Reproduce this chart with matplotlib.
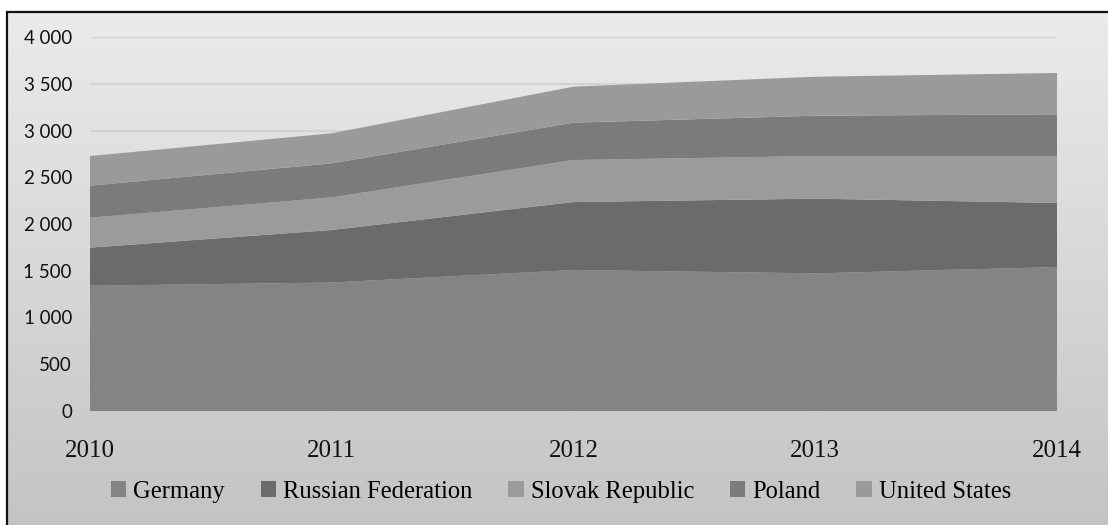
import numpy as np
import matplotlib.pyplot as plt
from matplotlib.patches import Rectangle

years = [2010, 2011, 2012, 2013, 2014]
countries = ['Germany', 'Russian Federation', 'Slovak Republic', 'Poland', 'United States']
germany = [1340, 1374, 1508, 1472, 1540]
russia = [407, 562, 727, 799, 685]
slovakia = [320, 349, 449, 456, 502]
poland = [343, 364, 400, 431, 446]
usa = [317, 321, 385, 417, 442]
colors = ['#848484', '#6b6b6b', '#9b9b9b', '#7b7b7b', '#9a9a9a']
yticks = [0, 500, 1000, 1500, 2000, 2500, 3000, 3500, 4000]

W, H = 1108, 525
fig = plt.figure(figsize=(W / 100, H / 100), dpi=100)

# grey gradient background inside the chart frame
bg = fig.add_axes([0, 0, 1, 1], zorder=-10)
bg.set_axis_off()
grad = np.linspace(235, 188, 256).reshape(-1, 1) / 255.0
fx0, fy1 = 7 / W, 1 - 11.5 / H
bg.imshow(np.dstack([grad] * 3), extent=[fx0, 1.2, -0.2, fy1], aspect='auto',
          transform=bg.transAxes, zorder=0)
bg.set_xlim(0, 1)
bg.set_ylim(0, 1)
bg.add_patch(Rectangle((fx0, -0.2), 1.3, fy1 + 0.2, transform=bg.transAxes,
                       fill=False, edgecolor='#111111', lw=1.6, zorder=2))

ax = fig.add_axes([90 / W, (H - 411) / H, (1057 - 90) / W, 374 / H])
ax.patch.set_alpha(0)
ax.stackplot(years, germany, russia, slovakia, poland, usa,
             colors=colors, labels=countries, lw=0, zorder=3)

ax.set_xlim(2010, 2014)
ax.set_ylim(0, 4000)
ax.set_yticks(yticks)
ax.set_yticklabels([f'{v:,}'.replace(',', ' ') for v in yticks],
                   fontfamily='Lato', fontsize=13.5, color='#111111')
ax.set_xticks(years)
ax.set_xticklabels([str(y) for y in years], fontfamily='Liberation Serif',
                   fontsize=18, color='#111111')
ax.tick_params(axis='y', length=0, pad=13)
ax.tick_params(axis='x', length=6, color='#c8c8c8', pad=15)
ax.grid(axis='y', color='#d3d3d3', lw=1.6, zorder=0)
ax.set_axisbelow(True)
for s in ['top', 'right', 'left']:
    ax.spines[s].set_visible(False)
ax.spines['bottom'].set_color('#c8c8c8')

fig.legend(*ax.get_legend_handles_labels(), loc='center', ncol=5,
           bbox_to_anchor=(561 / W, 1 - 492 / H), frameon=False,
           prop={'family': 'Liberation Serif', 'size': 17.7},
           handlelength=0.62, handleheight=0.62, handletextpad=0.3,
           columnspacing=1.45)

fig.savefig('out.png', dpi=100)
